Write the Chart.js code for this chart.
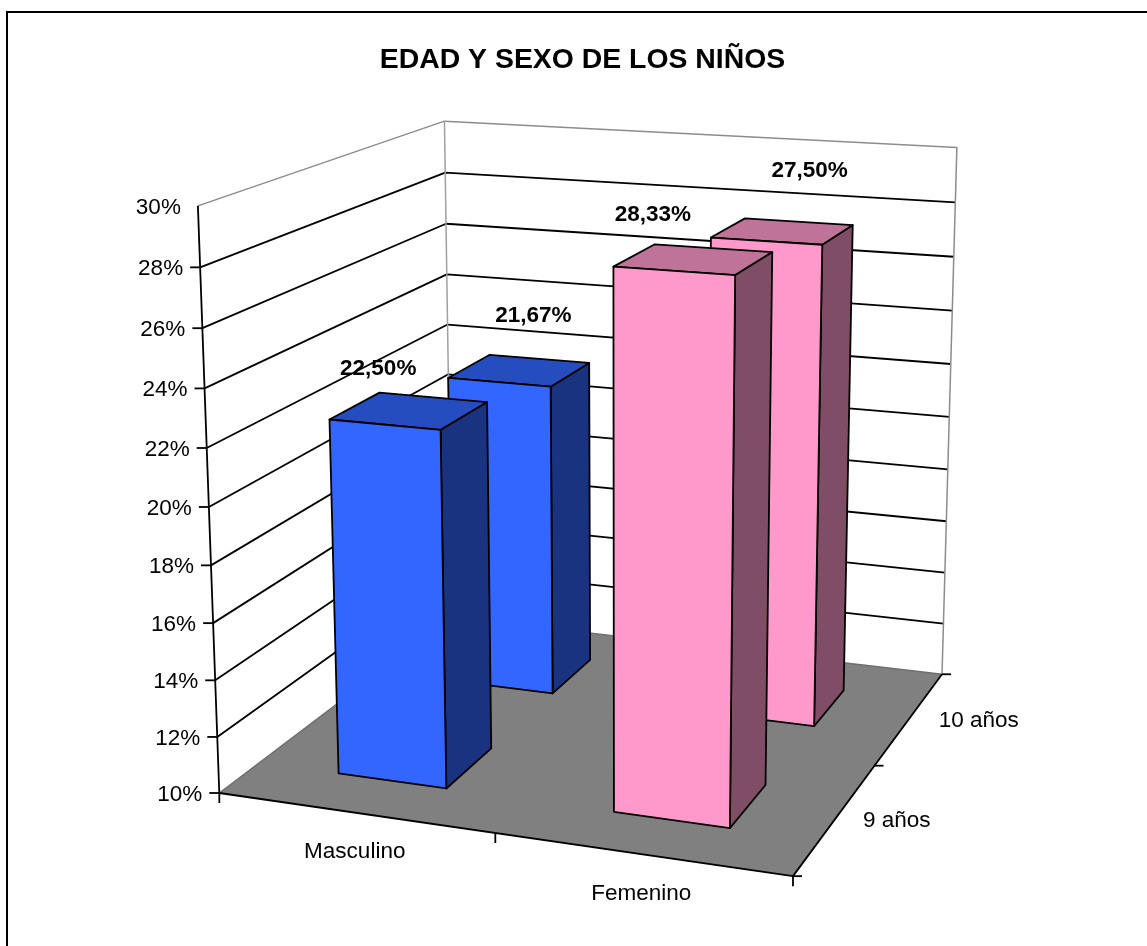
<!DOCTYPE html>
<html lang="es">
<head>
<meta charset="utf-8">
<title>Edad y sexo de los niños</title>
<script src="https://cdn.jsdelivr.net/npm/chart.js@4"></script>
<style>
html,body{margin:0;padding:0;background:#fff;}
canvas{display:block;}
</style>
</head>
<body>
<canvas id="myChart" width="1147" height="946"></canvas>
<script>
'use strict';
let categories=['Masculino','Femenino'];
let ages=['9 años','10 años'];
let values9=[22.5,28.33];
let values10=[21.67,27.5];
let barColors=['#3366FF','#FF99CC'];

// where the corners of the 3d box land on the picture: [across,depth,height,x,y]
let anchors=[
  [0,0,0,220,793],[1,0,0,792,877],[1,1,0,942,673],[0,1,0,452,618],
  [0,0,1,198,205],[0,1,1,444,122],[1,1,1,957,148],
  [0,0,.5,209,507],[0,1,.5,448,373],[1,1,.5,950,417]
];
// nudges from the top of each bar to its label, by age then category
let labelNudges=[[[-31,-42],[-41,-44]],[[14,-55],[27,-60]]];
// nudges from the depth axis to the age labels
let ageNudges=[[61,3],[69,3]];

function solve(a,b){
  let n=b.length;
  for(let i=0;i<n;i++){
    let p=i;
    for(let r=i+1;r<n;r++){
      if(Math.abs(a[r][i])>Math.abs(a[p][i])) p=r;
    }
    [a[i],a[p]]=[a[p],a[i]];
    [b[i],b[p]]=[b[p],b[i]];
    for(let r=i+1;r<n;r++){
      let f=a[r][i]/a[i][i];
      for(let c=i;c<n;c++) a[r][c]-=f*a[i][c];
      b[r]-=f*b[i];
    }
  }
  let out=new Array(n).fill(0);
  for(let i=n-1;i>=0;i--){
    let s=b[i];
    for(let c=i+1;c<n;c++) s-=a[i][c]*out[c];
    out[i]=s/a[i][i];
  }
  return out;
}

function fitCamera(){
  let rows=[];
  let rhs=[];
  anchors.forEach(([u,v,w,px,py])=>{
    let x=px/1000;
    let y=py/1000;
    rows.push([u,v,w,1,0,0,0,0,-x*u,-x*v,-x*w]);
    rhs.push(x);
    rows.push([0,0,0,0,u,v,w,1,-y*u,-y*v,-y*w]);
    rhs.push(y);
  });
  let ata=[];
  let atb=[];
  for(let i=0;i<11;i++){
    ata.push([]);
    atb.push(0);
    for(let j=0;j<11;j++){
      let s=0;
      for(let r=0;r<rows.length;r++) s+=rows[r][i]*rows[r][j];
      ata[i].push(s);
    }
    for(let r=0;r<rows.length;r++) atb[i]+=rows[r][i]*rhs[r];
  }
  return solve(ata,atb);
}

let cam=fitCamera();

function project(u,v,w){
  let d=cam[8]*u+cam[9]*v+cam[10]*w+1;
  return [
    1000*(cam[0]*u+cam[1]*v+cam[2]*w+cam[3])/d,
    1000*(cam[4]*u+cam[5]*v+cam[6]*w+cam[7])/d
  ];
}

function shade(hex,f){
  let n=parseInt(hex.slice(1),16);
  let r=Math.round((n>>16&255)*f);
  let g=Math.round((n>>8&255)*f);
  let b=Math.round((n&255)*f);
  return `rgb(${r},${g},${b})`;
}

function poly(ctx,pts,fill,stroke,lw){
  ctx.beginPath();
  pts.forEach((p,i)=>{
    if(i===0) ctx.moveTo(p[0],p[1]);
    else ctx.lineTo(p[0],p[1]);
  });
  if(fill){
    ctx.closePath();
    ctx.fillStyle=fill;
    ctx.fill();
  }
  if(stroke){
    ctx.strokeStyle=stroke;
    ctx.lineWidth=lw||1.8;
    ctx.stroke();
  }
}

function text(ctx,str,x,y,font,align){
  ctx.font=font;
  ctx.fillStyle='#000';
  ctx.textAlign=align||'center';
  ctx.textBaseline='middle';
  ctx.fillText(str,x,y);
}

let box3d={
  id:'box3d',
  beforeDraw(chart){
    let ctx=chart.ctx;
    poly(ctx,[[7,946],[7,12],[1147,12]],null,'#000',2);
  },
  beforeDatasetsDraw(chart){
    let ctx=chart.ctx;
    let area=chart.chartArea;
    let yScale=chart.scales.y;
    let xScale=chart.scales.x;
    let zScale=chart.scales.depth;
    let toW=val=>(area.bottom-yScale.getPixelForValue(val))/area.height;
    let toU=px=>(px-area.left)/area.width;
    let toV=px=>(px-zScale.left)/zScale.width;
    let font='22.5px "Liberation Sans", Arial, sans-serif';
    let boldFont='bold 22.5px "Liberation Sans", Arial, sans-serif';

    ctx.save();
    ctx.lineJoin='round';

    // floor
    poly(ctx,[project(0,0,0),project(1,0,0),project(1,1,0),project(0,1,0)],'#808080');
    poly(ctx,[project(0,0,0),project(0,1,0),project(1,1,0)],null,'#6e6e6e',1.5);

    // grid on the two walls
    yScale.ticks.forEach(t=>{
      let w=toW(t.value);
      if(t.value>yScale.min&&t.value<yScale.max){
        poly(ctx,[project(0,0,w),project(0,1,w),project(1,1,w)],null,'#000');
      }
    });
    poly(ctx,[project(0,0,1),project(0,1,1),project(1,1,1),project(1,1,0)],null,'#8c8c8c',1.5);
    poly(ctx,[project(0,1,1),project(0,1,0)],null,'#a0a0a0',1.5);

    // axes and tick marks
    poly(ctx,[project(0,0,1),project(0,0,0),project(1,0,0),project(1,1,0)],null,'#000');
    yScale.ticks.forEach(t=>{
      let p=project(0,0,toW(t.value));
      if(t.value<yScale.max) poly(ctx,[[p[0]-10,p[1]],p],null,'#000');
      text(ctx,t.label,p[0]-17,p[1]+1.5,font,'right');
    });
    [0,.5,1].forEach(u=>{
      let p=project(u,0,0);
      poly(ctx,[p,[p[0],p[1]+10]],null,'#000');
    });
    [0,.5,1].forEach(v=>{
      let p=project(1,v,0);
      poly(ctx,[p,[p[0]+9,p[1]]],null,'#000');
    });
    categories.forEach((c,i)=>{
      let p=project(toU(xScale.getPixelForValue(i)),0,0);
      text(ctx,c,p[0],p[1]+39.5,font);
    });
    ages.forEach((a,i)=>{
      let p=project(1,toV(zScale.getPixelForValue(i)),0);
      text(ctx,a,p[0]+ageNudges[i][0],p[1]+ageNudges[i][1],font);
    });

    // bars, the far row first
    for(let d=chart.data.datasets.length-1;d>=0;d--){
      let meta=chart.getDatasetMeta(d);
      let half=meta.data[0].width/area.width/2;
      let vMid=toV(zScale.getPixelForValue(d));
      let v0=vMid-half;
      let v1=vMid+half;
      meta.data.forEach(bar=>{
        let u0=toU(bar.x)-half;
        let u1=toU(bar.x)+half;
        let w=(area.bottom-bar.y)/area.height;
        let color=bar.options.backgroundColor;
        poly(ctx,[project(u1,v0,0),project(u1,v1,0),project(u1,v1,w),project(u1,v0,w)],shade(color,.5),'#000');
        poly(ctx,[project(u0,v0,w),project(u1,v0,w),project(u1,v1,w),project(u0,v1,w)],shade(color,.75),'#000');
        poly(ctx,[project(u0,v0,0),project(u1,v0,0),project(u1,v0,w),project(u0,v0,w)],color,'#000');
      });
    }

    // value labels on top of everything
    chart.data.datasets.forEach((ds,d)=>{
      let vMid=toV(zScale.getPixelForValue(d));
      chart.getDatasetMeta(d).data.forEach((bar,i)=>{
        let p=project(toU(bar.x),vMid,(area.bottom-bar.y)/area.height);
        let n=labelNudges[d][i];
        text(ctx,ds.data[i].toFixed(2).replace('.',',')+'%',p[0]+n[0],p[1]+n[1],boldFont);
      });
    });
    ctx.restore();
    return false;
  }
};

let myChart=new Chart(document.getElementById('myChart'),{
  type:'bar',
  data:{
    labels:categories,
    datasets:[
      {label:ages[0],data:values9,backgroundColor:barColors,grouped:false,categoryPercentage:.4,barPercentage:1},
      {label:ages[1],data:values10,backgroundColor:barColors,grouped:false,categoryPercentage:.4,barPercentage:1}
    ]
  },
  options:{
    responsive:false,
    animation:false,
    layout:{padding:{left:18}},
    plugins:{
      legend:{display:false},
      tooltip:{enabled:false},
      title:{
        display:true,
        text:'EDAD Y SEXO DE LOS NIÑOS',
        color:'#000',
        font:{family:'"Liberation Sans", Arial, sans-serif',size:28.4,weight:'bold'},
        padding:{top:43,bottom:10}
      }
    },
    scales:{
      x:{type:'category',display:false},
      depth:{type:'category',axis:'x',labels:ages,offset:true,display:false},
      y:{
        type:'linear',
        min:10,
        max:30,
        display:false,
        ticks:{stepSize:2,callback:val=>val+'%'}
      }
    }
  },
  plugins:[box3d]
});
</script>
</body>
</html>
